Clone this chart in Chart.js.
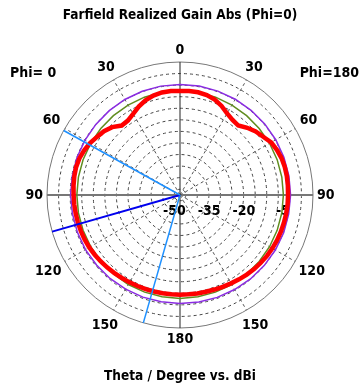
<!DOCTYPE html>
<html>
<head>
<meta charset="utf-8">
<script src="https://cdn.jsdelivr.net/npm/chart.js@4.4.1/dist/chart.umd.min.js"></script>
<style>
  body { margin: 0; background: #fff; }
  #wrap { width: 360px; height: 389px; }
</style>
</head>
<body>
<div id="wrap"><canvas id="farfield"></canvas></div>
<script>
// theta (deg) where the curves were read, same grid on both half planes
const theta = [0, 5, 10, 15, 20, 25, 30, 35, 40, 45, 50, 55, 60, 65, 70, 75, 80, 85, 90,
  95, 100, 105, 110, 115, 120, 125, 130, 135, 140, 145, 150, 155, 160, 165, 170, 175, 180];

// red curve (dBi), right half = Phi=180, left half = Phi=0
const redPhi180 = [-7.5, -7.4, -7.4, -7.8, -8.6, -10.0, -11.8, -12.9, -13.3, -11.4, -9.8, -8.6, -7.0,
  -6.3, -5.8, -5.6, -5.6, -5.7, -5.8, -5.8, -5.9, -6.0, -6.1, -6.2, -6.4, -6.6, -6.9, -7.2,
  -7.6, -8.0, -8.4, -8.7, -9.0, -9.2, -9.3, -9.4, -9.4];
const redPhi0 = [-7.5, -7.4, -7.5, -8.0, -8.9, -10.3, -12.0, -13.2, -13.3, -11.0, -9.6, -8.7, -7.6,
  -6.8, -6.2, -6.0, -6.1, -6.3, -6.5, -6.6, -6.7, -6.8, -6.9, -7.0, -7.2, -7.5, -7.8, -8.1,
  -8.4, -8.7, -8.9, -9.1, -9.2, -9.3, -9.4, -9.4, -9.4];

// green and purple curves, read every 10 deg
const theta10 = [0, 10, 20, 30, 40, 50, 60, 70, 80, 90, 100, 110, 120, 130, 140, 150, 160, 170, 180];
const greenPhi180 = [-7.4, -7.4, -7.5, -7.6, -7.7, -7.8, -7.8, -7.8, -7.8, -7.8, -7.8, -7.8, -7.8,
  -7.8, -7.8, -7.8, -7.8, -7.8, -7.8];
const greenPhi0 = [-7.4, -7.4, -7.5, -7.6, -7.7, -7.8, -7.9, -7.9, -7.9, -7.9, -7.9, -7.9, -7.9,
  -7.9, -7.9, -7.8, -7.8, -7.8, -7.8];
const purplePhi180 = [-4.7, -4.7, -4.7, -4.7, -4.7, -4.7, -4.7, -4.7, -4.7, -4.7, -4.8, -4.8, -4.9,
  -5.0, -5.1, -5.3, -5.4, -5.5, -5.6];
const purplePhi0 = [-4.7, -4.7, -4.8, -4.8, -4.9, -5.0, -5.1, -5.1, -5.2, -5.2, -5.3, -5.3, -5.3,
  -5.4, -5.4, -5.5, -5.5, -5.6, -5.6];

// marker lines (theta on the Phi=0 side)
const mainLobeTheta = [61];
const widthTheta = [106, 164];

const dbTicks = [-50, -35, -20, -5];
const thetaTicks = [0, 30, 60, 90, 120, 150, 180];
const rMin = -52.5, rMax = 5;

const FAMILY = "'DejaVu Sans Condensed', 'DejaVu Sans', sans-serif";
const FONT = "bold 14px " + FAMILY;

// one label per degree, clockwise from the top
const labels = Array.from({ length: 360 }, (_, i) => i);

function polar(angles, right, left) {
  const out = new Array(360).fill(null);
  angles.forEach((t, i) => { out[t % 360] = right[i]; });
  angles.forEach((t, i) => { if (t > 0 && t < 180) out[360 - t] = left[i]; });
  return out;
}

function spoke(t) {
  const out = new Array(360).fill(null);
  const idx = (360 - t) % 360;
  out[(idx + 1) % 360] = rMin;
  out[idx] = rMax;
  return out;
}

const textPlugin = {
  id: 'polarText',
  beforeDatasetsDraw(chart) {
    const sc = chart.scales.r;
    const ctx = chart.ctx;
    ctx.save();
    ctx.font = FONT;
    ctx.fillStyle = '#000';
    ctx.textAlign = 'right';
    ctx.textBaseline = 'middle';
    dbTicks.forEach(v => {
      ctx.fillText(String(v), sc.xCenter + sc.getDistanceFromCenterForValue(v), sc.yCenter + 16);
    });
    ctx.textAlign = 'center';
    const R = sc.drawingArea;
    thetaTicks.forEach(t => {
      const txt = String(t);
      const w = ctx.measureText(txt).width;
      const a = t * Math.PI / 180;
      const d = R + 4 + Math.abs(Math.sin(a)) * w / 2 + Math.abs(Math.cos(a)) * 7.5;
      new Set([t % 360, (360 - t) % 360]).forEach(idx => {
        const p = sc.getPointPosition(idx, d);
        ctx.fillText(txt, p.x, p.y);
      });
    });
    ctx.textAlign = 'left';
    ctx.fillText('Phi= 0', 10, 73);
    ctx.textAlign = 'right';
    ctx.fillText('Phi=180', 359, 73);
    ctx.restore();
  }
};

const line = (data, color, width, gaps) => ({
  data, borderColor: color, borderWidth: width, pointRadius: 0,
  fill: false, spanGaps: gaps, tension: 0
});

new Chart(document.getElementById('farfield'), {
  type: 'radar',
  data: {
    labels,
    datasets: [
      line(spoke(mainLobeTheta[0]), '#1e90ff', 1.5, false),
      line(spoke(widthTheta[0]), '#0000ee', 2, false),
      line(spoke(widthTheta[1]), '#1e90ff', 1.5, false),
      line(polar(theta, redPhi180, redPhi0), '#ff0000', 4.5, true),
      line(polar(theta10, greenPhi180, greenPhi0), '#5f8c1e', 1.5, true),
      line(polar(theta10, purplePhi180, purplePhi0), '#8a2be2', 1.5, true)
    ]
  },
  options: {
    responsive: true,
    maintainAspectRatio: false,
    animation: false,
    events: [],
    layout: { padding: { left: 47, right: 47, top: 0, bottom: 0 } },
    plugins: {
      legend: { display: false },
      tooltip: { enabled: false },
      title: {
        display: true, text: 'Farfield Realized Gain Abs (Phi=0)', color: '#000',
        font: { family: FAMILY, size: 13.5, weight: 'bold' },
        padding: { top: 7, bottom: 38.8 }
      },
      subtitle: {
        display: true, position: 'bottom', text: 'Theta / Degree vs. dBi', color: '#000',
        font: { family: FAMILY, size: 13.5, weight: 'bold' },
        padding: { top: 40.6, bottom: 4.2 }
      }
    },
    scales: {
      r: {
        min: rMin, max: rMax,
        ticks: { display: false, stepSize: 5, includeBounds: false },
        pointLabels: { display: false },
        grid: {
          circular: true,
          color: c => c.tick.value === rMax ? '#777' : '#444',
          lineWidth: 1
        },
        border: { dash: c => c.tick.value === rMax ? [] : [3, 3] },
        angleLines: {
          color: c => c.index % 90 === 0 ? (c.index % 180 === 0 ? '#222' : '#777')
            : (c.index % 30 === 0 ? '#555' : null),
          lineWidth: c => c.index % 180 === 90 ? 2 : 1,
          borderDash: c => c.index % 90 === 0 ? [] : [3, 3]
        }
      }
    }
  },
  plugins: [textPlugin]
});
</script>
</body>
</html>
